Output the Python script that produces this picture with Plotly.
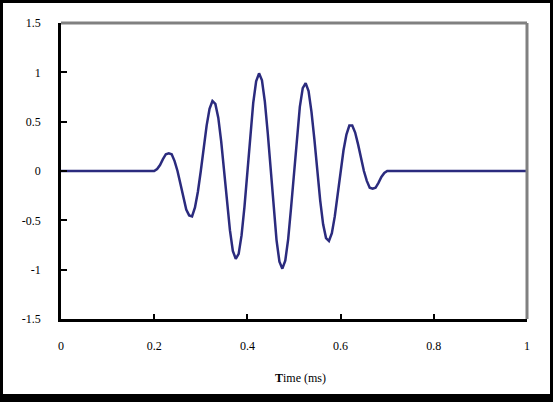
import plotly.graph_objects as go

# Data (time in ms, amplitude)
time_ms = [0.0, 0.2,
           0.20625, 0.2125, 0.21875, 0.225, 0.23125, 0.2375, 0.24375, 0.25,
           0.25625, 0.2625, 0.26875, 0.275, 0.28125, 0.2875, 0.29375, 0.3,
           0.30625, 0.3125, 0.31875, 0.325, 0.33125, 0.3375, 0.34375, 0.35,
           0.35625, 0.3625, 0.36875, 0.375, 0.38125, 0.3875, 0.39375, 0.4,
           0.40625, 0.4125, 0.41875, 0.425, 0.43125, 0.4375, 0.44375, 0.45,
           0.45625, 0.4625, 0.46875, 0.475, 0.48125, 0.4875, 0.49375, 0.5,
           0.50625, 0.5125, 0.51875, 0.525, 0.53125, 0.5375, 0.54375, 0.55,
           0.55625, 0.5625, 0.56875, 0.575, 0.58125, 0.5875, 0.59375, 0.6,
           0.60625, 0.6125, 0.61875, 0.625, 0.63125, 0.6375, 0.64375, 0.65,
           0.65625, 0.6625, 0.66875, 0.675, 0.68125, 0.6875, 0.69375, 0.7,
           1.0]
amplitude = [0.0, 0.0,
             0.02, 0.06, 0.12, 0.17, 0.18, 0.17, 0.10, 0.0,
             -0.13, -0.27, -0.39, -0.45, -0.46, -0.37, -0.21, 0.0,
             0.24, 0.46, 0.63, 0.71, 0.68, 0.54, 0.30, 0.0,
             -0.32, -0.60, -0.81, -0.89, -0.84, -0.65, -0.36, 0.0,
             0.37, 0.69, 0.91, 0.99, 0.92, 0.70, 0.38, 0.0,
             -0.38, -0.70, -0.92, -0.99, -0.91, -0.69, -0.37, 0.0,
             0.36, 0.65, 0.84, 0.89, 0.81, 0.60, 0.32, 0.0,
             -0.30, -0.54, -0.68, -0.71, -0.63, -0.46, -0.24, 0.0,
             0.21, 0.37, 0.46, 0.46, 0.39, 0.27, 0.13, 0.0,
             -0.10, -0.17, -0.18, -0.17, -0.12, -0.06, -0.02, 0.0,
             0.0]

x_ticks = [0, 0.2, 0.4, 0.6, 0.8, 1]
x_ticklabels = ["0", "0.2", "0.4", "0.6", "0.8", "1"]
y_ticks = [-1.5, -1, -0.5, 0, 0.5, 1, 1.5]
y_ticklabels = ["-1.5", "-1", "-0.5", "0", "0.5", "1", "1.5"]

FONT = "Liberation Serif, Times New Roman, serif"

fig = go.Figure()
fig.add_trace(go.Scatter(
    x=time_ms, y=amplitude, mode="lines",
    line=dict(color="#2b2b7e", width=2.5, shape="linear"),
    showlegend=False, hoverinfo="skip",
))

W, H = 553, 402
L, R, T, B = 61, 26, 23, 83
pw, ph = W - L - R, H - T - B

def px(xp):
    return (xp - L) / pw

def py(yp):
    return (H - B - yp) / ph

fig.update_layout(
    width=W, height=H,
    margin=dict(l=L, r=R, t=T, b=B, pad=0),
    paper_bgcolor="black",
    plot_bgcolor="white",
    font=dict(family=FONT, size=12, color="black"),
    xaxis=dict(
        range=[0, 1], tickvals=x_ticks, ticktext=x_ticklabels,
        ticks="inside", ticklen=5, tickwidth=2, tickcolor="black",
        showline=True, linecolor="black", linewidth=2.5,
        showgrid=False, zeroline=False, ticklabelstandoff=14,
        tickfont=dict(family=FONT, size=12, color="black"),
    ),
    yaxis=dict(
        range=[-1.5, 1.5], tickvals=y_ticks, ticktext=y_ticklabels,
        ticks="inside", ticklen=6, tickwidth=2, tickcolor="black",
        showline=True, linecolor="black", linewidth=2.5,
        showgrid=False, zeroline=False, ticklabelstandoff=15,
        tickfont=dict(family=FONT, size=12, color="black"),
    ),
    shapes=[
        # white page inside black frame
        dict(type="rect", xref="paper", yref="paper",
             x0=px(3), x1=px(550), y0=py(394), y1=py(3),
             fillcolor="white", line=dict(width=0), layer="below"),
        # grey top and right borders of plot area
        dict(type="line", xref="paper", yref="paper",
             x0=0, x1=1, y0=1, y1=1,
             line=dict(color="#808080", width=3), layer="above"),
        dict(type="line", xref="paper", yref="paper",
             x0=1, x1=1, y0=0, y1=1,
             line=dict(color="#808080", width=3), layer="above"),
    ],
    annotations=[
        dict(text="<b>T</b>ime (ms)", xref="paper", yref="paper",
             x=px(300), y=py(378), xanchor="center", yanchor="middle",
             showarrow=False, font=dict(family=FONT, size=12, color="black")),
    ],
)

fig.write_html(
    "out.html",
    config={"displayModeBar": False},
    post_script="document.body.style.margin='0';document.body.style.overflow='hidden';",
)
